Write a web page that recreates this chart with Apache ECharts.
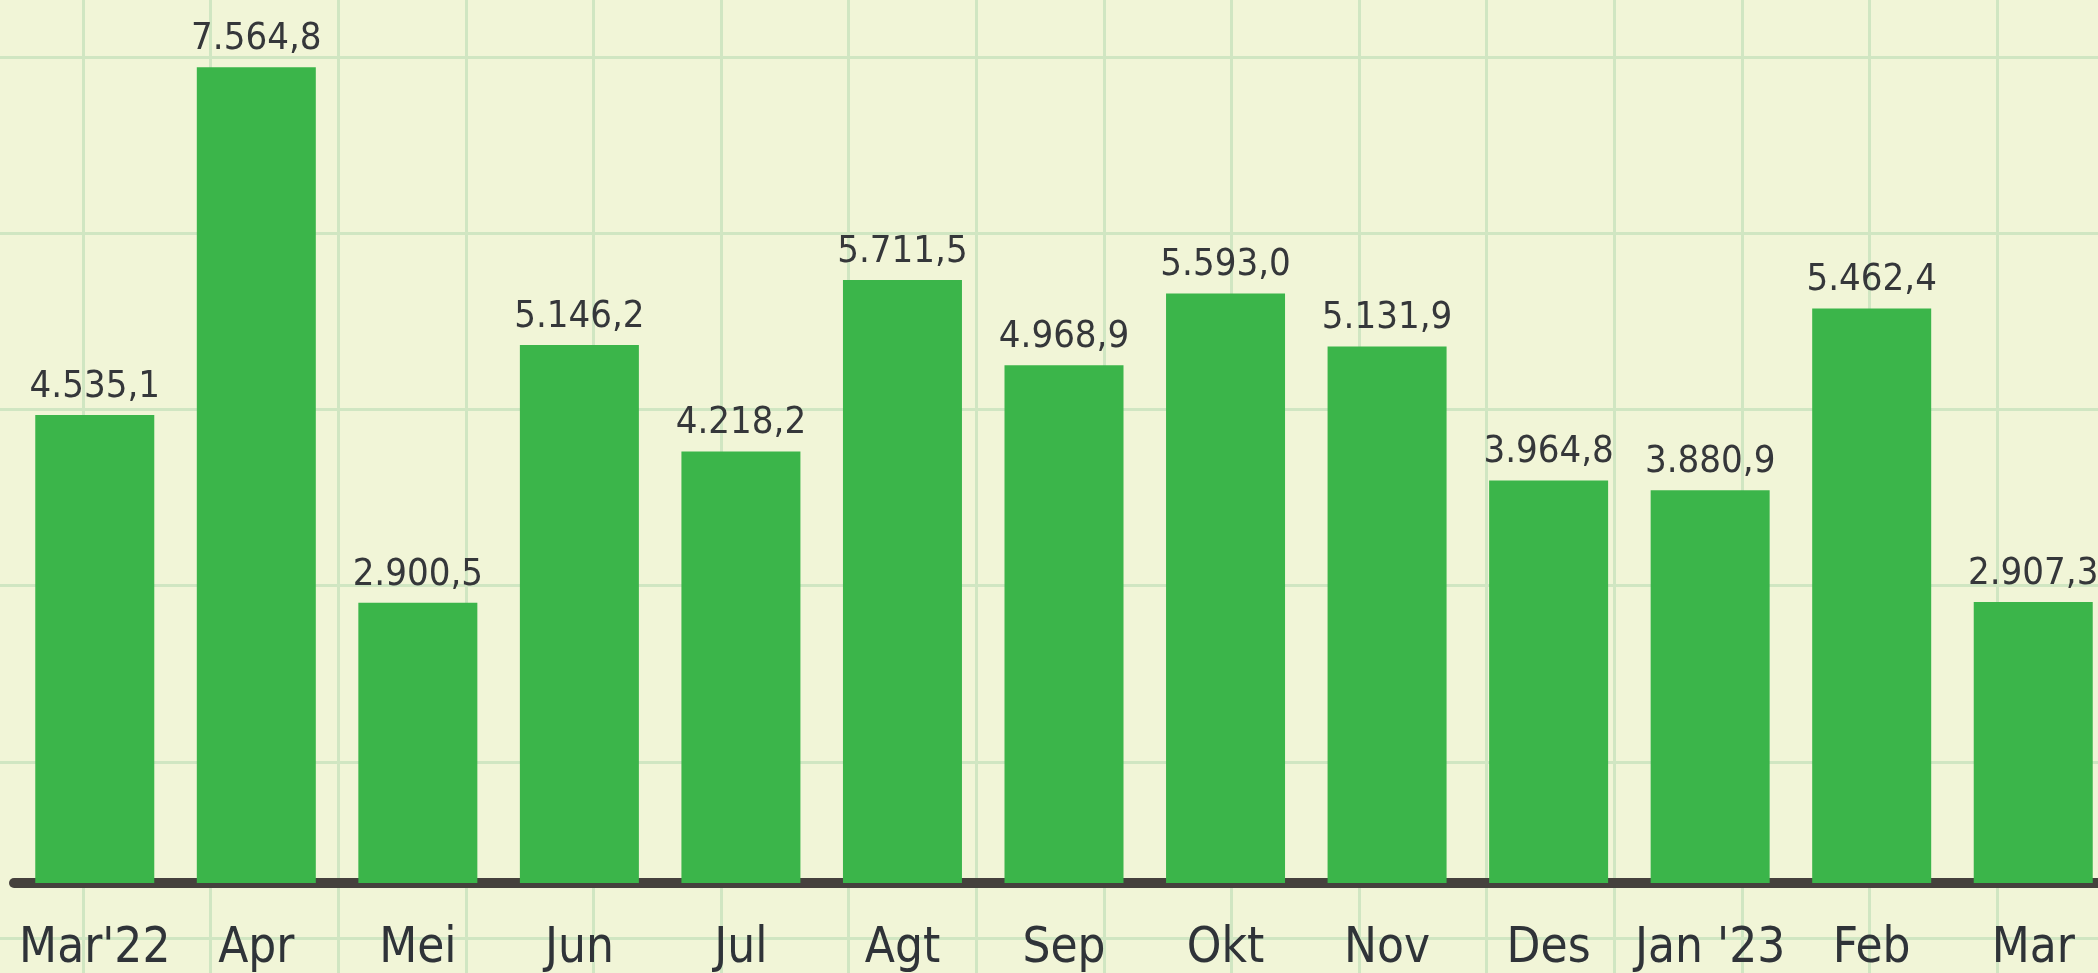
<!DOCTYPE html>
<html>
<head>
<meta charset="utf-8">
<title>Bar chart</title>
<script src="https://cdn.jsdelivr.net/npm/echarts@6/dist/echarts.min.js"></script>
<style>
  html, body { margin: 0; padding: 0; background: #f1f5d7; }
  #chart { width: 2098px; height: 973px; }
</style>
</head>
<body>
<div id="chart"></div>
<script>
const categories = ["Mar'22", 'Apr', 'Mei', 'Jun', 'Jul', 'Agt', 'Sep', 'Okt', 'Nov', 'Des', "Jan '23", 'Feb', 'Mar']
const values = [4535.1, 7564.8, 2900.5, 5146.2, 4218.2, 5711.5, 4968.9, 5593.0, 5131.9, 3964.8, 3880.9, 5462.4, 2907.3]

const font = "'Liberation Sans Narrow', 'DejaVu Sans Condensed', 'Liberation Sans', sans-serif"

// 4535.1 -> "4.535,1"
function fmt(v) {
  const parts = v.toFixed(1).split('.')
  return parts[0].replace(/\B(?=(\d{3})+(?!\d))/g, '.') + ',' + parts[1]
}

const gridLine = { show: true, lineStyle: { color: '#d0e6c2', width: 3 } }

const chart = echarts.init(document.getElementById('chart'))
chart.setOption({
  backgroundColor: '#f1f5d7',
  animation: false,
  grid: [
    // background lattice, vertical lines
    { left: 83, top: 0, width: 1914, height: 973, outerBoundsMode: 'none' },
    // background lattice, horizontal lines
    { left: 0, top: 57, width: 2098, height: 881, outerBoundsMode: 'none' },
    // the bars
    { left: 14, top: 0, width: 2100, bottom: 90, outerBoundsMode: 'none' }
  ],
  xAxis: [
    { gridIndex: 0, type: 'value', min: 0, max: 15, interval: 1, axisLine: { show: false }, axisTick: { show: false }, axisLabel: { show: false }, splitLine: gridLine },
    { gridIndex: 1, type: 'value', min: 0, max: 1, show: false },
    {
      gridIndex: 2,
      type: 'category',
      data: categories,
      axisLine: { show: true, lineStyle: { color: '#45413d', width: 10 } },
      axisTick: { show: false },
      axisLabel: {
        interval: 0,
        margin: 42,
        color: '#2f3338',
        fontFamily: font,
        fontSize: 49
      },
      splitLine: { show: false }
    }
  ],
  yAxis: [
    { gridIndex: 0, type: 'value', min: 0, max: 1, show: false },
    { gridIndex: 1, type: 'value', min: 0, max: 5, interval: 1, axisLine: { show: false }, axisTick: { show: false }, axisLabel: { show: false }, splitLine: gridLine },
    { gridIndex: 2, type: 'value', min: 460, max: 8150, show: false }
  ],
  series: [
    {
      type: 'bar',
      xAxisIndex: 2,
      yAxisIndex: 2,
      data: values,
      barWidth: 119,
      itemStyle: { color: '#3bb54a' },
      label: {
        show: true,
        position: 'top',
        distance: 9,
        color: '#35373a',
        fontFamily: font,
        fontSize: 38,
        formatter: (p) => fmt(p.value)
      }
    }
  ]
})
</script>
</body>
</html>
